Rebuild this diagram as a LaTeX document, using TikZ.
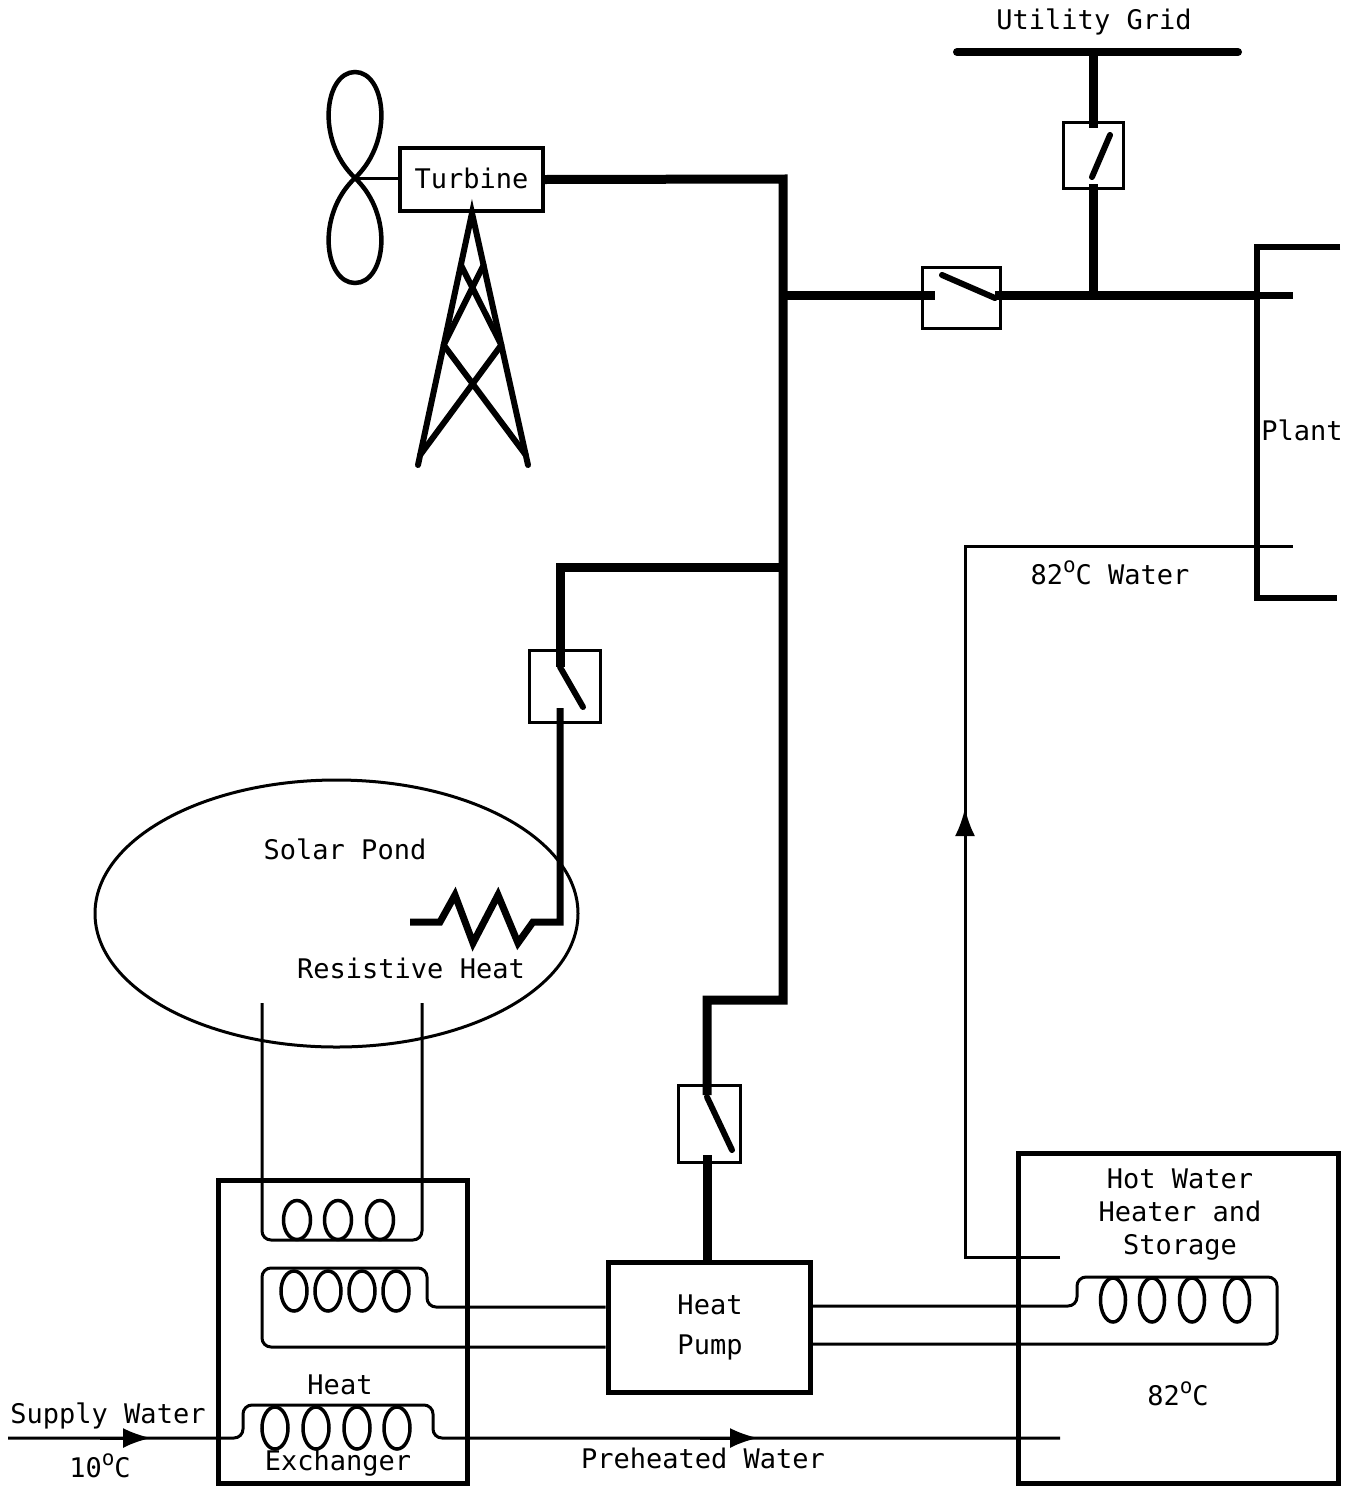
\documentclass[tikz,border=0pt]{standalone}
\usepackage{fontspec}
\setmonofont{DejaVu Sans Mono}
\usetikzlibrary{arrows.meta,shapes.geometric,calc}
\newcommand\degsym{\raisebox{0.85ex}{\fontsize{21}{21}\selectfont o}}
\begin{document}
\begin{tikzpicture}[x=1pt,y=-1pt,
  bus/.style={line width=9pt,line join=miter},
  blade/.style={line width=6pt,line cap=round},
  wire/.style={line width=3pt},
  pipe/.style={line width=3pt,rounded corners=9pt},
  loopc/.style={line width=3.5pt},
  frame/.style={draw,line width=5pt,inner sep=0pt},
  swbox/.style={draw,line width=3pt,inner sep=0pt},
  txt/.style={font=\ttfamily\fontsize{27}{33}\selectfont,inner sep=0pt,align=center},
  tower/.style={line width=6pt,line cap=round},
  flow/.style={-{Latex[length=28pt,width=20pt]},line width=3pt}]
\useasboundingbox (0,0) rectangle (1358,1486);

% ---------- wind turbine ----------
\node[frame,line width=4pt,minimum width=143pt,minimum height=63pt] (turb) at (471.5,179.5) {};
\node[txt] (turbT) at (471.5,178) {Turbine};
\coordinate (hub) at (355,178);
\draw[line width=4.5pt] (hub) .. controls (395,140) and (385,72) .. (355,72)
   .. controls (325,72) and (315,140) .. (hub)
   .. controls (395,216) and (385,283) .. (355,283)
   .. controls (325,283) and (315,216) .. (hub);
\draw[line width=3pt] (hub) -- (turb.west |- hub);
\coordinate (apex) at (472,213);
\coordinate (footL) at (418,465);
\coordinate (footR) at (528,465);
\draw[tower] (footL) -- (apex) -- (footR);
\draw[tower] (460.9,265) -- (501.3,345) (483.6,265) -- (443.7,345);
\draw[tower] (443.7,345) -- (525.8,455) (501.3,345) -- (420.1,455);

% ---------- switches ----------
\node[swbox,minimum width=71pt,minimum height=72pt] (swP) at (564.5,686) {};
\node[swbox,minimum width=62pt,minimum height=77pt] (swH) at (709,1123.5) {};
\node[swbox,minimum width=60pt,minimum height=66pt] (swG) at (1093,155) {};
\node[swbox,minimum width=78pt,minimum height=61pt] (swB) at (961,297.5) {};

% ---------- heat pump, heat exchanger, storage ----------
\node[frame,minimum width=202pt,minimum height=130pt] (hp) at (709,1327) {};
\node[txt,font=\ttfamily\fontsize{27}{40}\selectfont] at (710,1327) {Heat\\Pump};
\node[frame,minimum width=249pt,minimum height=303pt] (hx) at (342.5,1331.5) {};
\node[frame,minimum width=320pt,minimum height=330pt] (hw) at (1178,1318) {};

% ---------- solar pond ----------
\node[draw,ellipse,line width=3pt,minimum width=483pt,minimum height=267pt,inner sep=0pt] (pond) at (336.5,913.5) {};
\node[txt] at (345,849) {Solar Pond};
\node[txt] at (411,968) {Resistive Heat};

% ---------- electrical buses ----------
\coordinate (jTop) at (783,179);
\coordinate (jB) at (783,295);
\coordinate (jP) at (783,567);
\coordinate (jLow) at (783,1000);
\coordinate (plantBus) at (1257,295);
\draw[bus] (turb.east) -- (jTop) -- (jLow) -- (707,1000) -- (707,1095);
\draw[blade] (707,1097) -- (732,1150);
\draw[bus] (707,1155) -- (hp.north -| 707,0);

\draw[bus] (jB) -- (935,295);
\draw[blade] (942,275) -- (995,298);
\draw[bus] (995,295) -- (plantBus);
\draw[line width=7pt] (plantBus) -- (1293,295);

\coordinate (gridL) at (957,52);
\coordinate (gridR) at (1238,52);
\draw[line width=8pt,line cap=round] (gridL) -- (gridR);
\node[txt] at (1094,22) {Utility Grid};
\draw[bus] (1093,52) -- (1093,128);
\draw[blade] (1092,177) -- (1110,135);
\draw[bus] (1093,184) -- (1093,295);

\draw[bus] (jP) -- (560,567) -- (560,667);
\draw[blade] (560,667) -- (583,707);
\draw[line width=7pt,line join=miter] (560,708) -- (560,922) -- (533,922) -- (518,943) -- (498,895)
   -- (473,943) -- (455,895) -- (440,922) -- (410,922);

% ---------- plant ----------
\draw[line width=6pt,line join=miter] (1340,247) -- (1257,247) -- (1257,598) -- (1337,598);
\node[txt] at (1302,430) {Plant};

% ---------- heat exchanger coils ----------
\coordinate (pondA) at (262,1003);
\coordinate (pondB) at (422,1003);
\draw[pipe] (pondA) -- (262,1240) -- (422,1240) -- (pondB);
\foreach \x in {297,338,380} \draw[loopc] (\x,1220) ellipse (13.5pt and 19.5pt);

\draw[pipe] (hp.west |- 0,1307) -- (427,1307) -- (427,1268) -- (262,1268) -- (262,1347) -- (hp.west |- 0,1347);
\foreach \x in {294,328,362,396} \draw[loopc] (\x,1291) ellipse (13pt and 20pt);

\coordinate (supply) at (8,1438);
\coordinate (preEnd) at (1060,1438);
\draw[pipe] (supply) -- (243,1438) -- (243,1405) -- (433,1405) -- (433,1438) -- (preEnd);
\foreach \x in {275,316,357,397} \draw[loopc] (\x,1428) ellipse (13pt and 21pt);
\draw[flow] (100,1438) -- (151,1438);
\draw[flow] (700,1438) -- (758,1438);

\node[txt] at (340,1385) {Heat};
\node[txt] at (338,1463) {Exchanger};
\node[txt] at (108,1416) {Supply Water};
\node[txt] at (100,1466) {10\degsym C};
\node[txt] at (703,1458) {Preheated Water};

% ---------- hot water heater and storage ----------
\draw[pipe] (hp.east |- 0,1306) -- (1077,1306) -- (1077,1277) -- (1277,1277) -- (1277,1344) -- (hp.east |- 0,1344);
\foreach \x in {1113,1152,1192,1237} \draw[loopc] (\x,1300) ellipse (12.5pt and 22pt);
\node[txt] at (1180,1215) {Hot Water\\Heater and\\Storage};
\node[txt] at (1178,1394) {82\degsym C};

\coordinate (hwOut) at (1060,1257);
\coordinate (plantIn) at (1293,546);
\draw[wire] (hwOut) -- (965,1257) -- (965,546) -- (plantIn);
\draw[flow] (965,860) -- (965,808);
\node[txt] at (1110,573) {82\degsym C Water};
\end{tikzpicture}
\end{document}
